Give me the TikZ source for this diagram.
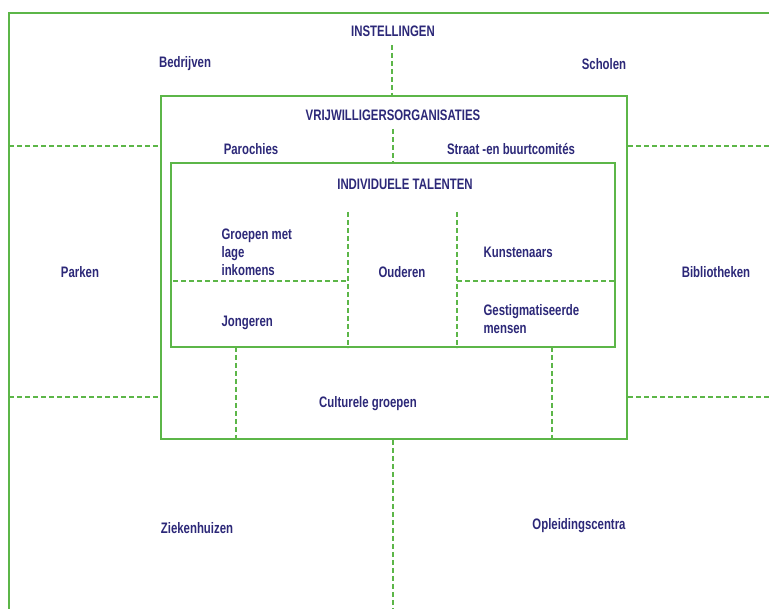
\documentclass[tikz,border=0pt]{standalone}
\usepackage{fontspec}
\setmainfont{Liberation Sans}[FakeStretch=0.75]
\usepackage{xcolor}
\usepackage{tikz}
\usetikzlibrary{calc, positioning}

\definecolor{talentgreen}{RGB}{92,182,72}
\definecolor{talentnavy}{RGB}{44,40,120}

\begin{document}
\begin{tikzpicture}[
    x=0.75pt, y=-0.75pt,
    frame/.style={draw=talentgreen, line width=1.5pt},
    box/.style={rectangle, draw=talentgreen, line width=1.5pt, inner sep=0pt},
    divider/.style={draw=talentgreen, line width=0.8pt, dash pattern=on 3.6pt off 2.4pt},
    label/.style={text=talentnavy, font=\fontsize{11.4}{13.5}\selectfont\bfseries, align=left, inner sep=1pt}
]
    \useasboundingbox (0, 0) rectangle (769, 609);

    \draw [frame] (9, 609) -- (9, 13) -- (769, 13);

    \node [box, minimum width=349.5pt, minimum height=257.25pt] (vol) at (394, 267.5) {};
    \node [box, minimum width=333pt, minimum height=138pt] (ind) at (393, 255) {};

    \node [label] (inst) at (393, 31) {INSTELLINGEN};
    \node [label] (bedr) at (185, 64) {Bedrijven};
    \node [label] (schol) at (604, 64) {Scholen};
    \node [label] (park) at (80, 272) {Parken};
    \node [label] (bibl) at (716, 272) {Bibliotheken};
    \node [label] (zkh) at (197, 528) {Ziekenhuizen};
    \node [label] (opl) at (579, 526) {Opleidingscentra};

    \node [label] (vrij) at (393, 115) {VRIJWILLIGERSORGANISATIES};
    \node [label] (paro) at (251, 149) {Parochies};
    \node [label] (straat) at (511, 149) {Straat -en buurtcomités};
    \node [label] (cult) at (368, 404) {Culturele groepen};

    \node [label] (indt) at (405, 184) {INDIVIDUELE TALENTEN};
    \node [label, anchor=west] (groep) at (220, 252) {Groepen met\\lage\\inkomens};
    \node [label] (oud) at (402, 272) {Ouderen};
    \node [label, anchor=west] (kunst) at (482, 252) {Kunstenaars};
    \node [label, anchor=west] (jong) at (220, 323) {Jongeren};
    \node [label, anchor=west] (stigma) at (482, 319) {Gestigmatiseerde\\mensen};

    \coordinate (topcut) at (392, 45);
    \coordinate (midcut) at (393, 129);
    \coordinate (botcut) at (393, 609);
    \coordinate (lefthi) at (9, 146);
    \coordinate (leftlo) at (9, 397);
    \coordinate (righthi) at (769, 146);
    \coordinate (rightlo) at (769, 397);
    \coordinate (colone) at (348, 212);
    \coordinate (coltwo) at (457, 212);
    \coordinate (rowleft) at (173, 281);
    \coordinate (legone) at (236, 347);
    \coordinate (legtwo) at (552, 347);

    \draw [divider] (topcut) -- (topcut |- vol.north);
    \draw [divider] (midcut) -- (midcut |- ind.north);
    \draw [divider] (botcut |- vol.south) -- (botcut);
    \draw [divider] (lefthi) -- (lefthi -| vol.west);
    \draw [divider] (leftlo) -- (leftlo -| vol.west);
    \draw [divider] (righthi -| vol.east) -- (righthi);
    \draw [divider] (rightlo -| vol.east) -- (rightlo);

    \draw [divider] (colone) -- (colone |- ind.south);
    \draw [divider] (coltwo) -- (coltwo |- ind.south);
    \draw [divider] (rowleft) -- (rowleft -| colone);
    \draw [divider] (rowleft -| coltwo) -- (rowleft -| ind.east);
    \draw [divider] (legone) -- (legone |- vol.south);
    \draw [divider] (legtwo) -- (legtwo |- vol.south);
\end{tikzpicture}
\end{document}
